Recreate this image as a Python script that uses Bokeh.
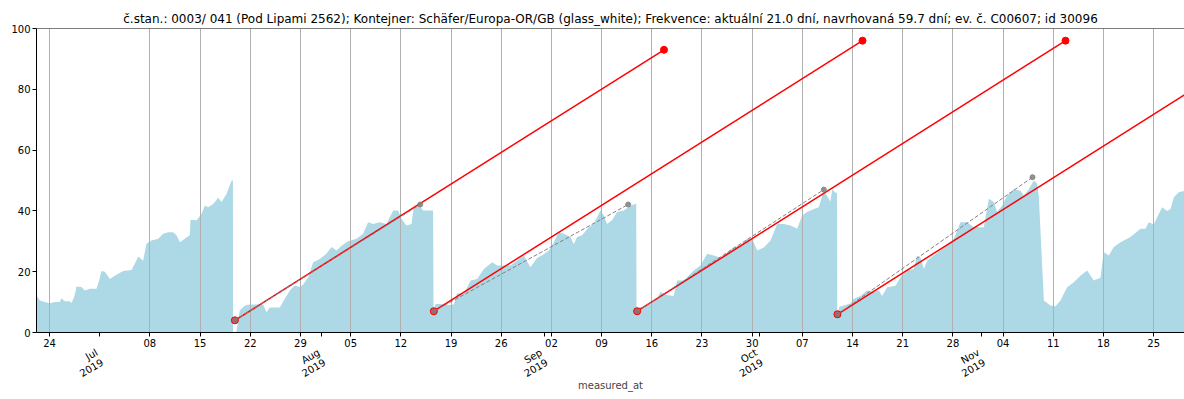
import math
import pandas as pd
from bokeh.plotting import figure
from bokeh.models import (FixedTicker, LinearAxis, ColumnDataSource, Span, Range1d)
from bokeh.embed import file_html
from bokeh.resources import INLINE

title_text = ("č.stan.: 0003/ 041 (Pod Lipami 2562); Kontejner: Schäfer/Europa-OR/GB (glass_white); "
              "Frekvence: aktuální 21.0 dní, navrhovaná 59.7 dní; ev. č. C00607; id 30096")

# ---- fill level measurements ----
measured_at = [
    "2019-06-22 04:30", "2019-06-22 15:30", "2019-06-23 08:00", "2019-06-24 01:00", "2019-06-24 18:00",
    "2019-06-25 10:30", "2019-06-25 16:00", "2019-06-26 03:00", "2019-06-26 20:00", "2019-06-27 02:00",
    "2019-06-27 13:00", "2019-06-27 18:30", "2019-06-28 11:00", "2019-06-28 22:00", "2019-06-29 15:00",
    "2019-06-30 13:30", "2019-06-30 22:00", "2019-07-01 06:00", "2019-07-01 17:00", "2019-07-02 10:00",
    "2019-07-03 02:30", "2019-07-04 06:30", "2019-07-05 10:30", "2019-07-05 21:30", "2019-07-06 09:00",
    "2019-07-07 01:30", "2019-07-07 12:30", "2019-07-08 05:30", "2019-07-09 04:00", "2019-07-09 20:30",
    "2019-07-10 13:00", "2019-07-11 06:00", "2019-07-11 17:00", "2019-07-12 04:30", "2019-07-12 21:00",
    "2019-07-13 13:30", "2019-07-13 16:00", "2019-07-14 12:00", "2019-07-15 05:00", "2019-07-15 16:00",
    "2019-07-16 03:00", "2019-07-16 20:00", "2019-07-17 12:30", "2019-07-18 00:00", "2019-07-18 16:30",
    "2019-07-19 09:30", "2019-07-19 14:00", "2019-07-19 14:30", "2019-07-20 01:00",
    "2019-07-20 13:00", "2019-07-21 06:00", "2019-07-21 22:30", "2019-07-23 19:00", "2019-07-24 06:30",
    "2019-07-24 17:30", "2019-07-26 03:00", "2019-07-26 19:30", "2019-07-27 12:30", "2019-07-28 05:00",
    "2019-07-28 22:00", "2019-07-29 09:00", "2019-07-30 02:00", "2019-07-30 18:30", "2019-07-31 17:00",
    "2019-08-01 15:00", "2019-08-02 08:00", "2019-08-03 00:30", "2019-08-03 17:30", "2019-08-04 15:30",
    "2019-08-05 19:30", "2019-08-06 18:00", "2019-08-07 10:30", "2019-08-08 03:30", "2019-08-09 01:30",
    "2019-08-10 00:00", "2019-08-10 22:30", "2019-08-11 15:00", "2019-08-12 02:00", "2019-08-12 19:00",
    "2019-08-13 12:00", "2019-08-13 17:30", "2019-08-14 10:00", "2019-08-15 02:30", "2019-08-16 12:00",
    "2019-08-16 13:30",
    "2019-08-16 20:00", "2019-08-17 12:45", "2019-08-18 11:00", "2019-08-19 09:30", "2019-08-19 20:30",
    "2019-08-20 19:00", "2019-08-21 17:30", "2019-08-22 15:30", "2019-08-23 14:00", "2019-08-24 18:00",
    "2019-08-25 10:30", "2019-08-27 07:00", "2019-08-28 05:30", "2019-08-29 03:30", "2019-08-30 02:00",
    "2019-08-31 00:00", "2019-08-31 22:30", "2019-09-01 15:30", "2019-09-02 08:00", "2019-09-03 00:45",
    "2019-09-03 17:30", "2019-09-04 16:00", "2019-09-05 03:00", "2019-09-05 14:00", "2019-09-06 07:00",
    "2019-09-07 05:00", "2019-09-07 22:00", "2019-09-08 20:00", "2019-09-09 07:30", "2019-09-09 18:30",
    "2019-09-10 11:30", "2019-09-11 04:00", "2019-09-12 02:30", "2019-09-13 00:45", "2019-09-13 17:15",
    "2019-09-13 20:00", "2019-09-13 21:00",
    "2019-09-14 04:30", "2019-09-14 21:00", "2019-09-15 19:30", "2019-09-16 18:00", "2019-09-17 05:00",
    "2019-09-18 03:30", "2019-09-19 01:30", "2019-09-19 12:45", "2019-09-20 11:00", "2019-09-21 20:30",
    "2019-09-22 19:00", "2019-09-23 17:15", "2019-09-24 15:30", "2019-09-25 14:00", "2019-09-26 12:15",
    "2019-09-27 10:30", "2019-09-28 09:00", "2019-09-29 07:00", "2019-09-30 00:00", "2019-09-30 17:00",
    "2019-10-01 15:00", "2019-10-02 13:30", "2019-10-03 11:45", "2019-10-04 10:00", "2019-10-05 08:30",
    "2019-10-06 06:45", "2019-10-06 23:30", "2019-10-07 16:00", "2019-10-08 14:30", "2019-10-09 07:00",
    "2019-10-10 00:00", "2019-10-10 16:30", "2019-10-10 22:00", "2019-10-11 04:00", "2019-10-11 15:00",
    "2019-10-11 20:00", "2019-10-11 21:00",
    "2019-10-12 04:00", "2019-10-13 17:00", "2019-10-14 04:30", "2019-10-15 02:30", "2019-10-16 01:00",
    "2019-10-16 23:30", "2019-10-17 16:00", "2019-10-18 03:00", "2019-10-18 20:00", "2019-10-20 00:00",
    "2019-10-20 16:30", "2019-10-21 15:00", "2019-10-22 13:00", "2019-10-23 00:15", "2019-10-23 11:30",
    "2019-10-23 22:30", "2019-10-24 10:00", "2019-10-25 08:00", "2019-10-26 06:30", "2019-10-27 05:00",
    "2019-10-28 03:00", "2019-10-29 01:30", "2019-10-30 00:00", "2019-10-30 22:00", "2019-11-01 07:30",
    "2019-11-02 00:15", "2019-11-02 17:00", "2019-11-03 04:00", "2019-11-03 21:00", "2019-11-04 13:30",
    "2019-11-05 12:00", "2019-11-06 10:00", "2019-11-06 21:30", "2019-11-07 14:00", "2019-11-08 07:00",
    "2019-11-08 18:00", "2019-11-08 23:30",
    "2019-11-09 16:30", "2019-11-10 14:30", "2019-11-11 07:30", "2019-11-12 00:00", "2019-11-12 22:30",
    "2019-11-13 20:30", "2019-11-14 19:00", "2019-11-15 17:15", "2019-11-16 15:30", "2019-11-17 14:00",
    "2019-11-18 01:00", "2019-11-18 18:00", "2019-11-19 10:30", "2019-11-20 09:00", "2019-11-21 18:30",
    "2019-11-23 04:00", "2019-11-23 20:30", "2019-11-24 07:45", "2019-11-25 00:30", "2019-11-25 11:45",
    "2019-11-26 04:30", "2019-11-26 21:00", "2019-11-27 08:30", "2019-11-27 19:30", "2019-11-28 12:15",
    "2019-11-29 07:15",
]
fill_level = [
    12.2, 10.5, 10.0, 9.6, 10.0,
    10.0, 11.3, 10.3, 10.3, 9.6,
    12.5, 15.1, 15.0, 13.8, 14.4,
    14.4, 17.0, 20.2, 20.0, 17.6,
    18.7, 20.2, 20.6, 22.6, 25.0,
    23.6, 29.2, 30.3, 30.8, 32.5,
    33.0, 33.0, 32.0, 29.7, 30.8,
    32.0, 37.1, 36.9, 39.0, 41.8,
    41.2, 42.3, 44.3, 42.9, 45.6,
    50.0, 50.0, 0.0, 0.0,
    7.2, 8.9, 9.2, 9.2, 6.7,
    8.2, 8.2, 11.1, 13.8, 15.5,
    15.0, 15.8, 18.2, 23.1, 24.2,
    25.9, 28.1, 27.0, 28.5, 30.0,
    30.8, 32.5, 36.3, 35.7, 36.3,
    35.7, 40.1, 40.1, 37.4, 35.2,
    35.7, 40.1, 42.3, 40.1, 40.1,
    7.0,
    9.4, 9.4, 9.0, 9.2, 12.9,
    12.7, 17.1, 17.6, 20.9, 23.1,
    22.0, 22.0, 23.7, 25.3, 21.5,
    24.5, 25.7, 27.0, 29.7, 33.0,
    32.5, 31.4, 29.0, 31.4, 32.0,
    34.6, 35.7, 40.1, 38.5, 35.7,
    37.0, 39.6, 40.1, 41.8, 42.3,
    42.3, 7.0,
    8.3, 8.3, 9.4, 11.1, 13.3,
    12.3, 12.0, 17.1, 17.1, 20.4,
    22.0, 25.9, 25.3, 24.6, 26.3,
    28.1, 28.6, 30.8, 30.8, 27.0,
    28.0, 30.3, 35.7, 35.7, 35.2,
    34.1, 38.5, 39.6, 40.6, 41.2,
    46.7, 44.0, 43.0, 47.0, 46.0,
    46.0, 6.0,
    8.5, 9.5, 11.1, 12.0, 13.8,
    13.3, 13.8, 12.0, 14.9, 15.4,
    18.2, 20.4, 20.9, 25.3, 24.6,
    20.9, 23.6, 25.3, 27.0, 28.6,
    30.8, 36.3, 36.3, 34.6, 34.6,
    44.0, 42.9, 39.6, 41.8, 45.0,
    47.1, 46.6, 45.0, 47.1, 50.0,
    49.0, 45.0,
    10.5, 8.9, 8.6, 10.5, 14.9,
    16.5, 18.7, 20.4, 17.1, 18.0,
    26.4, 25.3, 28.1, 29.7, 31.4,
    34.1, 34.1, 36.3, 35.5, 37.9,
    41.2, 40.0, 40.6, 44.5, 46.1,
    46.6,
]

# ---- predictions (red) ----
pred_start_at = ["2019-07-19 20:30", "2019-08-16 14:30", "2019-09-13 23:00", "2019-10-11 21:30"]
pred_start_level = [4.0, 7.0, 7.0, 6.0]
pred_end_at = ["2019-09-17 17:00", "2019-10-15 09:30", "2019-11-12 17:00", "2019-12-10 14:00"]
pred_end_level = [93.0, 96.0, 96.0, 95.0]

# ---- observed maxima (grey) ----
max_at = ["2019-08-14 17:00", "2019-09-12 17:00", "2019-10-10 00:00", "2019-11-08 02:30"]
max_level = [42.1, 42.1, 47.0, 51.1]

# ---- ticks ----
week_ticks = ["2019-06-24", "2019-07-08", "2019-07-15", "2019-07-22", "2019-07-29", "2019-08-05",
              "2019-08-12", "2019-08-19", "2019-08-26", "2019-09-02", "2019-09-09", "2019-09-16",
              "2019-09-23", "2019-09-30", "2019-10-07", "2019-10-14", "2019-10-21", "2019-10-28",
              "2019-11-04", "2019-11-11", "2019-11-18", "2019-11-25"]
week_labels = ["24", "08", "15", "22", "29", "05", "12", "19", "26", "02", "09", "16",
               "23", "30", "07", "14", "21", "28", "04", "11", "18", "25"]
month_ticks = ["2019-07-01", "2019-08-01", "2019-09-01", "2019-10-01", "2019-11-01"]
month_labels = ["Jul\n2019", "Aug\n2019", "Sep\n2019", "Oct\n2019", "Nov\n2019"]
y_ticks = [0, 20, 40, 60, 80, 100]

FONT = "DejaVu Sans"


def ms(s):
    return float(pd.Timestamp(s).value // 10**6)


t = pd.to_datetime(measured_at)
src = ColumnDataSource(dict(x=t, y=fill_level))

p = figure(x_axis_type="datetime", frame_width=1148, frame_height=304,
           output_backend="svg", toolbar_location=None,
           x_range=Range1d(t.min(), t.max()), y_range=Range1d(0, 100),
           min_border_left=36, min_border_right=0, min_border_top=28, min_border_bottom=0)
p.outline_line_color = None
p.background_fill_color = "white"
p.border_fill_color = "white"

area = p.varea(x="x", y1=0, y2="y", source=src, fill_color="lightblue", fill_alpha=1.0)
area.level = "image"

# red prediction lines
for sa, sl, ea, el in zip(pred_start_at, pred_start_level, pred_end_at, pred_end_level):
    p.line([pd.Timestamp(sa), pd.Timestamp(ea)], [sl, el], line_color="red", line_width=1.5)
p.scatter(pd.to_datetime(pred_start_at), pred_start_level, size=7, color="red")
p.scatter(pd.to_datetime(pred_end_at), pred_end_level, size=7, color="red")

# grey observed growth lines
for sa, sl, ea, el in zip(pred_start_at, pred_start_level, max_at, max_level):
    p.line([pd.Timestamp(sa), pd.Timestamp(ea)], [sl, el], line_color="gray",
           line_width=1, line_dash="4 2")
p.scatter(pd.to_datetime(pred_start_at), pred_start_level, size=5, color="gray", alpha=0.85)
p.scatter(pd.to_datetime(max_at), max_level, size=5, color="gray", alpha=0.85)

# top spine
p.add_layout(Span(location=p.y_range.end, dimension="width", line_color="black", line_width=1))

# title
p.title.text = title_text
p.title.align = "center"
p.title.offset = -14
p.title.text_font = FONT
p.title.text_font_size = "12px"
p.title.text_font_style = "normal"
p.title.text_color = "black"
p.title.standoff = 6

# x axis (days)
week_ms = [ms(s) for s in week_ticks]
month_ms = [ms(s) for s in month_ticks]
xticker = FixedTicker(ticks=week_ms, minor_ticks=month_ms)
xa = p.xaxis[0]
xa.ticker = xticker
xa.major_label_overrides = {k: v for k, v in zip(week_ms, week_labels)}
xa.major_label_text_font = FONT
xa.major_label_text_font_size = "10px"
xa.major_label_text_color = "black"
xa.major_label_standoff = 2
xa.major_tick_out = 4
xa.major_tick_in = 0
xa.minor_tick_out = 4
xa.minor_tick_in = 0
xa.axis_line_color = "black"

p.xgrid.ticker = xticker
p.xgrid.grid_line_color = "#b0b0b0"
p.xgrid.grid_line_width = 1
p.ygrid.visible = False

# month axis
ma = LinearAxis(ticker=FixedTicker(ticks=month_ms),
                major_label_overrides={k: v for k, v in zip(month_ms, month_labels)},
                major_label_orientation=math.pi / 6,
                axis_line_color=None, major_tick_line_color=None, minor_tick_line_color=None,
                major_label_text_font=FONT, major_label_text_font_size="10px",
                major_label_text_color="black", major_label_standoff=1,
                major_label_text_align="right", major_label_text_line_height=1.05,
                axis_label="measured_at", axis_label_text_font=FONT,
                axis_label_text_font_size="10px", axis_label_text_font_style="normal",
                axis_label_standoff=-12)
p.add_layout(ma, "below")

# y axis
ya = p.yaxis[0]
ya.ticker = FixedTicker(ticks=y_ticks)
ya.major_label_text_font = FONT
ya.major_label_text_font_size = "10px"
ya.major_label_text_color = "black"
ya.major_label_standoff = 2
ya.major_tick_out = 4
ya.major_tick_in = 0
ya.minor_tick_line_color = None
ya.axis_line_color = "black"

open("out.html", "w").write(file_html(p, INLINE))
